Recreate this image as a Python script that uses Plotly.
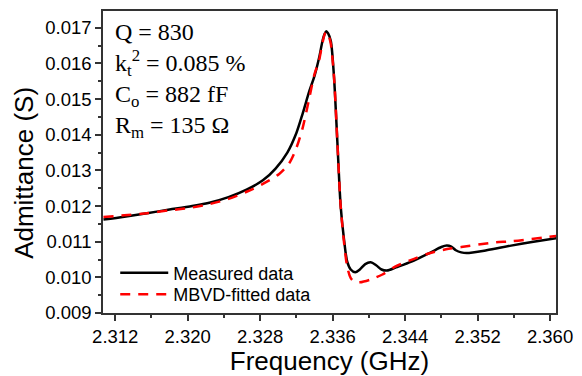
import plotly.graph_objects as go

# Measured data (GHz, S)
freq_meas = [2.3107, 2.3130, 2.3155, 2.3180, 2.3205, 2.3225, 2.3245, 2.3265, 2.3283,
             2.3297, 2.3310, 2.3320, 2.3327, 2.3334, 2.3340, 2.3345, 2.3349, 2.3351, 2.3353,
             2.3355, 2.3358, 2.33615, 2.33652, 2.33689, 2.33725, 2.33761, 2.3380,
             2.3385, 2.3390, 2.3396, 2.3402, 2.3408, 2.3414, 2.3420, 2.3430, 2.3447,
             2.3469, 2.3480, 2.3486, 2.3491, 2.3496, 2.3502, 2.3508, 2.3530, 2.3557,
             2.3580, 2.3607]
adm_meas = [0.01162, 0.01170, 0.01180, 0.01190, 0.01200, 0.01210, 0.01225, 0.01246, 0.01272,
            0.01305, 0.01350, 0.01405, 0.01460, 0.01520, 0.01565, 0.01615, 0.01665, 0.01682, 0.01690,
            0.01684, 0.01663, 0.01563, 0.01381, 0.01199, 0.01108, 0.01044, 0.01022,
            0.01014, 0.01022, 0.01037, 0.01042, 0.01034, 0.01022, 0.01019, 0.01028, 0.01044,
            0.01071, 0.01085, 0.01089, 0.01086, 0.01076, 0.01070, 0.01068, 0.01076, 0.01089,
            0.01099, 0.01110]

# MBVD-fitted data
freq_fit = [2.3107, 2.3130, 2.3155, 2.3180, 2.3205, 2.3225, 2.3245, 2.3265, 2.3283,
            2.3301, 2.3312, 2.3320, 2.3327, 2.3334, 2.3340, 2.3345, 2.3349, 2.3352,
            2.3354, 2.3356, 2.3358, 2.33615, 2.33652, 2.33689, 2.33725, 2.33761, 2.3380,
            2.3385, 2.3390, 2.3402, 2.3415, 2.3429, 2.3450, 2.3466, 2.3488, 2.3502,
            2.3539, 2.3557, 2.3607]
adm_fit = [0.01169, 0.01174, 0.01180, 0.01188, 0.01196, 0.01206, 0.01220, 0.01240, 0.01262,
           0.01290, 0.01320, 0.01363, 0.01420, 0.01500, 0.01570, 0.01608, 0.01660, 0.01686,
           0.01688, 0.01675, 0.01655, 0.01563, 0.01381, 0.01199, 0.01100, 0.01030, 0.00998,
           0.00986, 0.00986, 0.00994, 0.01008, 0.01030, 0.01052, 0.01067, 0.01080, 0.01085,
           0.01098, 0.01101, 0.01116]

x_ticks = [2.312, 2.320, 2.328, 2.336, 2.344, 2.352, 2.360]
x_tick_labels = ["2.312", "2.320", "2.328", "2.336", "2.344", "2.352", "2.360"]
y_ticks = [0.009, 0.010, 0.011, 0.012, 0.013, 0.014, 0.015, 0.016, 0.017]
y_tick_labels = ["0.009", "0.010", "0.011", "0.012", "0.013", "0.014", "0.015", "0.016", "0.017"]

param_lines = ["Q = 830", "k<sub>t</sub><sup>2</sup> = 0.085 %",
               "C<sub>o</sub> = 882 fF", "R<sub>m</sub> = 135 Ω"]

SANS = "Liberation Sans, Arial, sans-serif"
SERIF = "Liberation Serif, Times New Roman, serif"

fig = go.Figure()
fig.add_trace(go.Scatter(x=freq_meas, y=adm_meas, mode="lines", name="Measured data",
                         legend="legend",
                         line=dict(color="black", width=2.5, shape="spline", smoothing=0.8)))
fig.add_trace(go.Scatter(x=freq_fit, y=adm_fit, mode="lines", name="MBVD-fitted data",
                         legend="legend2",
                         line=dict(color="#ff0000", width=2.5, dash="10px,8px",
                                   shape="spline", smoothing=0.8)))

axis_common = dict(showline=True, linecolor="#333333", linewidth=1.5, mirror=True,
                   ticks="outside", ticklen=6, tickwidth=1.5, tickcolor="#333333",
                   showgrid=False, zeroline=False,
                   tickfont=dict(family=SANS, size=18.5, color="black"))

fig.update_xaxes(range=[2.31065, 2.36066], tickvals=x_ticks, ticktext=x_tick_labels,
                 minor=dict(dtick=0.004, tick0=2.312, ticks="outside", ticklen=3,
                            tickwidth=1.5, tickcolor="#333333"),
                 title=dict(text="Frequency (GHz)", font=dict(family=SANS, size=26, color="black"),
                            standoff=2),
                 **axis_common)
fig.update_yaxes(range=[0.009, 0.01747], tickvals=y_ticks, ticktext=y_tick_labels,
                 minor=dict(dtick=0.0005, tick0=0.009, ticks="outside", ticklen=3,
                            tickwidth=1.5, tickcolor="#333333"),
                 **axis_common)

# y-axis title (placed slightly below the plot-area centre, as in the reference)
fig.add_annotation(text="Admittance (S)", xref="paper", yref="paper", x=-0.1734, y=0.4655,
                   xanchor="center", yanchor="middle", textangle=-90, showarrow=False,
                   font=dict(family=SANS, size=26, color="black"))

ys = [0.930, 0.829, 0.720, 0.6165]
for txt, yy in zip(param_lines, ys):
    fig.add_annotation(text=txt, xref="paper", yref="paper", x=0.021, y=yy,
                       xanchor="left", yanchor="middle", showarrow=False,
                       font=dict(family=SERIF, size=24, color="black"))

legend_common = dict(x=0.027, xanchor="left", yanchor="top",
                     bgcolor="rgba(0,0,0,0)", font=dict(family=SANS, size=18, color="black"),
                     tracegroupgap=0, itemwidth=48)

fig.update_layout(
    width=582, height=376,
    margin=dict(l=103, r=24, t=9, b=57),
    paper_bgcolor="white", plot_bgcolor="white",
    showlegend=True,
    legend=dict(y=0.1935, **legend_common),
    legend2=dict(y=0.1226, **legend_common),
)

fig.write_html("out.html", config={"displayModeBar": False},
               post_script="document.body.style.margin='0px';")
